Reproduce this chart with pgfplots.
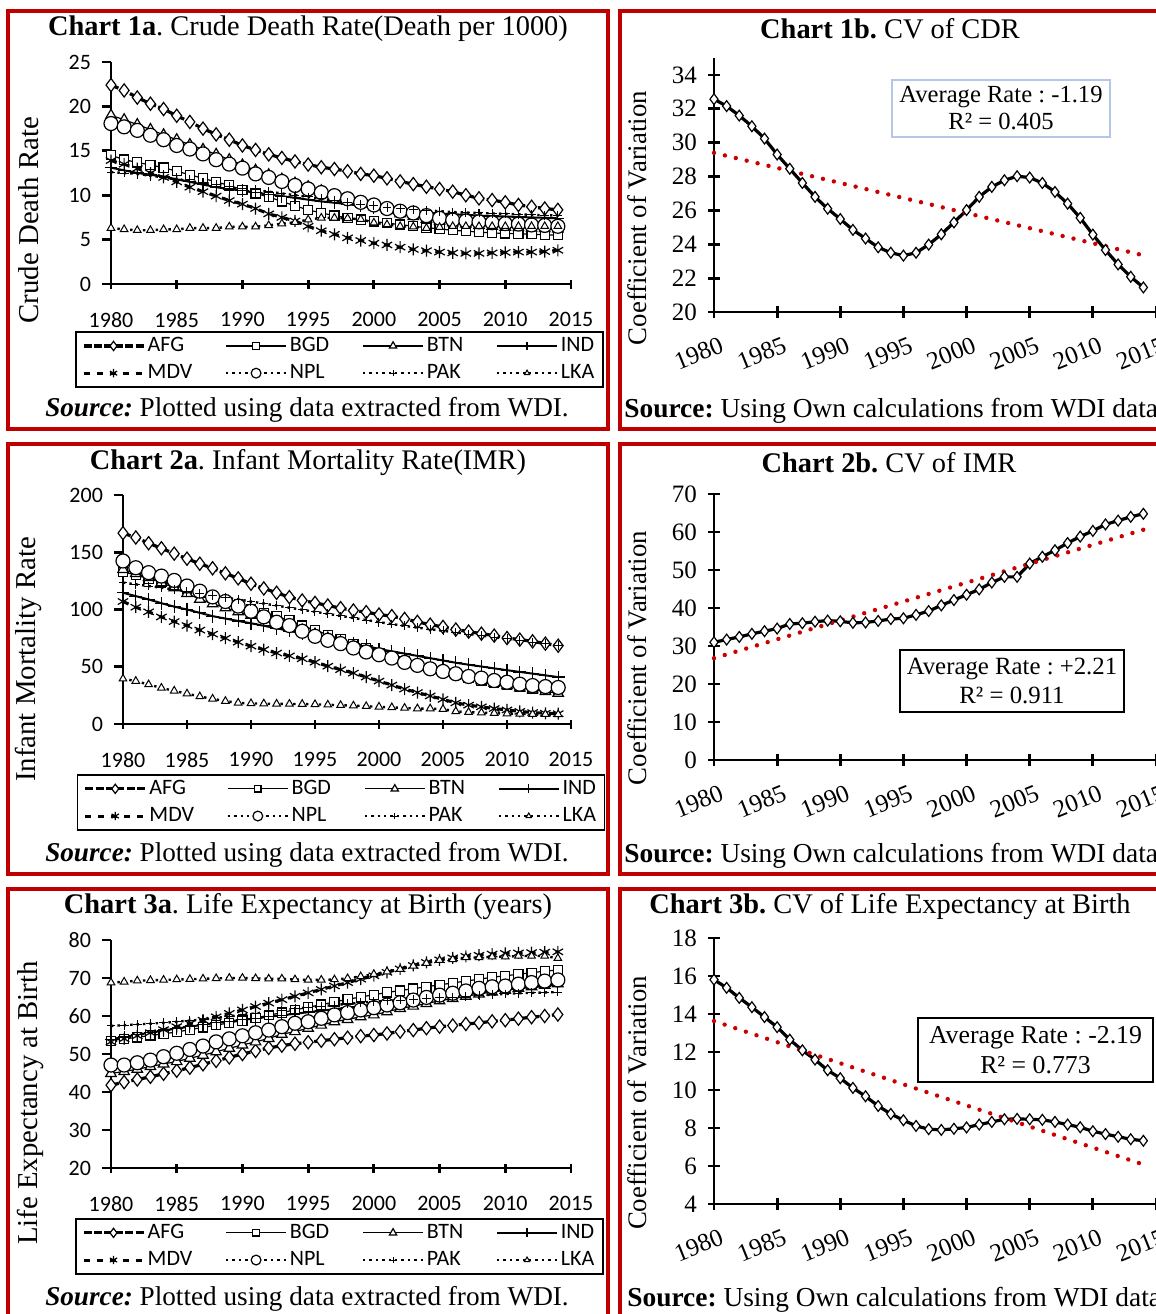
\documentclass[border=0pt]{standalone}
\usepackage{pgfplots}
\pgfplotsset{compat=1.18}
\usepackage{pgfplotstable}
\usepackage{fontspec}
\setmainfont{Liberation Serif}
\newfontfamily\calib{Carlito}
\definecolor{framered}{RGB}{192,0,0}
\definecolor{trendred}{RGB}{204,0,0}
\definecolor{boxblue}{RGB}{180,199,231}
\frenchspacing

\pgfplotstableread{
year AFG BGD BTN IND MDV NPL PAK LKA
1980 22.4 14.5 19.0 13.1 13.9 18.07 12.6 6.3
1981 21.8 14.0 18.5 12.8 13.5 17.7 12.5 6.15
1982 21.0 13.7 17.95 12.5 13.0 17.3 12.4 6.05
1983 20.3 13.4 17.4 12.3 12.5 16.75 12.2 6.05
1984 19.7 13.1 16.8 12.1 12.0 16.25 12.0 6.15
1985 18.95 12.7 16.25 11.8 11.5 15.6 11.8 6.15
1986 18.25 12.3 15.7 11.5 10.9 15.2 11.6 6.3
1987 17.5 11.9 15.15 11.2 10.4 14.65 11.4 6.3
1988 16.85 11.5 14.6 10.9 9.9 14.0 11.2 6.3
1989 16.25 11.1 14.0 10.7 9.4 13.5 11.0 6.45
1990 15.6 10.6 13.4 10.5 9.0 13.05 10.8 6.45
1991 15.1 10.2 12.8 10.3 8.5 12.4 10.6 6.45
1992 14.6 9.8 12.3 10.1 7.9 12.0 10.4 6.6
1993 14.2 9.3 11.8 9.9 7.5 11.55 10.2 6.8
1994 13.8 8.8 11.35 9.7 7.1 11.1 10.0 6.95
1995 13.45 8.35 10.95 9.5 6.5 10.7 9.8 7.25
1996 13.15 8.0 10.5 9.3 6.0 10.3 9.6 7.45
1997 12.95 7.7 10.0 9.15 5.6 9.95 9.4 7.45
1998 12.7 7.45 9.55 9.0 5.2 9.6 9.2 7.4
1999 12.4 7.25 9.1 8.8 4.9 9.2 9.0 7.3
2000 12.2 7.05 8.7 8.6 4.6 8.9 8.8 6.9
2001 11.9 6.85 8.3 8.45 4.4 8.5 8.6 6.7
2002 11.55 6.7 7.9 8.3 4.15 8.2 8.5 6.5
2003 11.25 6.5 7.6 8.2 3.9 8.0 8.4 6.45
2004 10.95 6.35 7.3 8.05 3.75 7.7 8.3 6.3
2005 10.7 6.2 7.1 7.95 3.6 7.4 8.2 6.4
2006 10.4 6.05 6.9 7.85 3.5 7.2 8.1 6.5
2007 10.0 5.95 6.75 7.8 3.45 7.1 8.05 6.5
2008 9.65 5.85 6.6 7.7 3.45 7.0 8.0 6.5
2009 9.45 5.75 6.5 7.65 3.5 6.9 7.95 6.5
2010 9.2 5.7 6.4 7.6 3.55 6.8 7.9 6.5
2011 8.9 5.65 6.35 7.55 3.6 6.75 7.85 6.5
2012 8.7 5.6 6.3 7.5 3.6 6.65 7.8 6.5
2013 8.5 5.55 6.25 7.45 3.65 6.6 7.75 6.5
2014 8.35 5.5 6.2 7.4 3.8 6.5 7.7 6.5
}\cdrtab

\pgfplotstableread{
year AFG BGD BTN IND MDV NPL PAK LKA
1980 166.7 133 135 114.6 107 142.4 123.5 39.5
1981 162.9 130 131.5 111.7 102 136.5 122 37.5
1982 157.9 127 128 108.8 98 132.2 120.5 34.5
1983 153.5 124 123.5 105.5 93.5 129.2 119 31.5
1984 148.8 121 119 102.5 89.5 125.4 117.5 29
1985 144.4 118 114 100 86 120.5 115.8 26.5
1986 140 114.5 109 97.1 82 116 114 24
1987 136 111 105 94.2 78.5 111 112.2 22
1988 131.6 107 101.5 92.1 75 107 110.5 20
1989 127.2 103.5 98 90 71.5 103 108.8 18.5
1990 122.5 100 95 88 68 98.5 107 18
1991 118.4 97 92 85.8 65 93.6 105.2 17.8
1992 114.6 94 89 83.6 62 88.9 103.4 17.6
1993 110.8 90.5 85.5 81.3 59.5 86 101.6 17.5
1994 107.9 86 82 79 57 81 99.8 17.4
1995 105.8 82 78.5 76.8 54 76.6 98 17.2
1996 103.5 78 75 74.6 50.5 73.1 96.2 16.8
1997 101.2 74 71.5 72.5 47.5 70.2 94.4 16.4
1998 99.1 70 68 70.4 44.5 66.4 92.6 16
1999 97.7 66 64.5 68.3 41 62.9 90.8 15.5
2000 95.6 62 61 65.5 37.5 60.5 89 15
2001 94.2 58.5 57.5 63.5 34 57.6 87.3 14.5
2002 91.8 55 54 61.5 30.5 53.8 85.7 14
2003 89.2 51.5 51 59.5 27.5 51.2 84.2 13.5
2004 86.8 48.5 48 57.5 24.5 48.2 82.8 13.5
2005 84.8 45.5 45.5 55.5 21.5 45.9 81.4 13
2006 82.5 43 43 53.5 18.5 43.9 80 11
2007 80.7 40.5 40.5 51.8 16.5 41.5 78.6 10.3
2008 78.9 38 38 50.2 15 40.1 77.2 9.9
2009 77.2 36 35.5 48.6 13.5 38 75.8 9.5
2010 75.1 34 33.5 47 12.3 36.5 74.4 9.1
2011 73.7 32.5 31.5 45.5 11 34.8 73 8.8
2012 72.2 31 29.8 44 10 33.6 71.6 8.6
2013 70.2 29.8 28.3 42.5 9.4 32.7 70.2 8.5
2014 68.4 28.6 26.9 41 9 31.9 68.8 8.4
}\imrtab

\pgfplotstableread{
year AFG BGD BTN IND MDV NPL PAK LKA
1980 41.8 53.5 44.9 53.9 53.2 47.1 57.4 68.8
1981 42.6 54.0 45.4 54.5 54.0 47.1 57.6 69.0
1982 43.3 54.4 46.0 55.1 54.8 47.7 57.8 69.3
1983 44.0 54.9 46.7 55.6 55.6 48.4 58.0 69.4
1984 44.8 55.3 47.4 56.2 56.4 49.3 58.2 69.5
1985 45.6 55.8 48.0 56.7 57.2 50.2 58.5 69.6
1986 46.4 56.4 48.9 57.2 58.0 51.2 58.8 69.7
1987 47.3 57.0 49.7 57.7 58.9 52.1 59.1 69.8
1988 48.2 57.6 50.6 58.2 59.8 53.2 59.5 69.9
1989 49.1 58.2 51.5 58.6 60.7 54.0 59.9 70.0
1990 50.0 58.8 52.4 59.0 61.6 54.8 60.3 70.0
1991 50.8 59.5 53.2 59.4 62.5 55.6 60.7 69.9
1992 51.6 60.2 54.1 59.8 63.4 56.3 61.1 69.8
1993 52.2 60.9 55.2 60.2 64.3 57.2 61.5 69.8
1994 52.7 61.6 55.9 60.6 65.2 58.1 61.9 69.6
1995 53.1 62.3 56.8 61.0 66.1 58.5 62.3 69.5
1996 53.5 63.0 57.6 61.4 67.0 59.4 62.6 69.5
1997 53.9 63.7 58.5 61.8 67.9 60.3 62.9 69.6
1998 54.3 64.4 59.1 62.2 68.8 60.9 63.2 69.9
1999 54.7 65.0 59.8 62.6 69.7 61.6 63.5 70.4
2000 55.0 65.6 60.3 63.0 70.6 62.2 63.8 71.0
2001 55.4 66.2 61.1 63.4 71.5 62.9 64.0 71.7
2002 55.9 66.7 62.0 63.8 72.4 63.5 64.2 72.3
2003 56.3 67.2 62.6 64.2 73.3 64.2 64.4 73.2
2004 56.8 67.7 63.3 64.6 74.1 64.9 64.6 73.9
2005 57.2 68.2 64.0 65.0 74.8 65.5 64.8 74.7
2006 57.5 68.7 64.6 65.4 75.3 66.0 65.0 74.9
2007 57.9 69.2 65.2 65.8 75.7 66.6 65.2 75.4
2008 58.2 69.7 65.8 66.2 76.0 67.3 65.4 75.4
2009 58.6 70.2 66.3 66.6 76.3 67.7 65.6 75.6
2010 58.9 70.6 66.8 67.0 76.5 67.9 65.8 75.6
2011 59.3 71.0 67.3 67.3 76.6 68.4 66.0 75.8
2012 59.7 71.4 67.7 67.6 76.7 68.8 66.1 75.8
2013 60.0 71.8 68.1 67.9 76.8 69.2 66.2 75.8
2014 60.4 72.1 68.5 68.2 76.9 69.5 66.3 75.2
}\letab

\pgfplotstableread{
year cdr imr le
1980 32.57 30.98 15.81
1981 32.16 31.7 15.38
1982 31.6 32.4 14.85
1983 30.97 33.2 14.36
1984 30.24 33.9 13.84
1985 29.3 34.6 13.31
1986 28.46 35.8 12.65
1987 27.62 36.0 12.09
1988 26.8 36.4 11.6
1989 26.1 36.7 11.04
1990 25.49 36.5 10.62
1991 24.85 36.1 10.11
1992 24.34 36.2 9.67
1993 23.82 36.6 9.16
1994 23.5 37.1 8.74
1995 23.33 37.3 8.41
1996 23.5 38.2 8.11
1997 23.98 39.2 7.94
1998 24.59 40.7 7.9
1999 25.29 42.1 7.96
2000 26.02 43.5 8.03
2001 26.8 44.9 8.18
2002 27.39 46.7 8.32
2003 27.78 48.2 8.46
2004 28.02 48.2 8.48
2005 27.94 51.7 8.46
2006 27.62 53.5 8.43
2007 27.09 55.2 8.32
2008 26.4 57.1 8.18
2009 25.56 58.8 8.04
2010 24.57 60.3 7.83
2011 23.66 62.0 7.68
2012 22.81 63.0 7.54
2013 22.08 64.0 7.41
2014 21.45 64.8 7.33
}\cvtab

\pgfplotsset{
  common/.style={
    scale only axis, clip=false, anchor=south west,
    axis x line*=bottom, axis y line*=left,
    axis line style={line width=1.4pt, black, -},
    every tick/.style={line width=1.4pt, black},
    xmin=1980, xmax=2015, xtick={1980,1985,...,2015},
    minor tick num=0,
    /pgf/number format/assume math mode=true,
    /pgf/number format/1000 sep={},
  },
  leftax/.style={common,
    xtick align=center, ytick align=outside,
    major tick length=4.5pt,
    tick label style={font=\calib\fontsize{11}{13}\selectfont},
    xticklabel style={yshift=-8.5pt},
    yticklabel style={xshift=-2pt},
    legend columns=4, legend cell align=left,
    legend image code/.code={\draw[##1, every mark/.append style={scale=0.7}, mark repeat=2, mark phase=2] plot coordinates {(0pt,0pt) (15pt,0pt) (30pt,0pt)};},
    legend style={draw=black, line width=0.8pt, anchor=north west,
      font=\calib\fontsize{11}{13}\selectfont, inner xsep=3pt, inner ysep=1pt,
      nodes={inner sep=1.3pt, text height=7.5pt, text depth=2pt},
      row sep=1.5pt,
      /tikz/every even column/.append style={column sep=15pt}},
  },
  rightax/.style={common,
    tick align=center, major tick length=6pt,
    tick label style={font=\fontsize{12.5}{14}\selectfont},
    xticklabel style={rotate=22, anchor=north east, inner sep=1pt, yshift=-8pt},
    yticklabel style={xshift=-2pt},
    width=221pt,
  },
  sAFG/.style={black, line width=1.6pt, dash pattern=on 4pt off 1.2pt, mark=diamond*, mark size=3.3pt, mark options={solid, fill=white, draw=black, line width=0.6pt}},
  sBGD/.style={black, line width=0.6pt, mark=square*, mark size=2.3pt, mark options={solid, fill=white, draw=black, line width=0.6pt}},
  sBTN/.style={black, line width=0.6pt, mark=triangle*, mark size=3pt, mark options={solid, fill=white, draw=black, line width=0.6pt}},
  sIND/.style={black, line width=1pt, mark=+, mark size=3.2pt, mark options={solid, line width=0.6pt}},
  sMDV/.style={black, line width=1.5pt, dash pattern=on 3pt off 3.5pt, mark=asterisk, mark size=3pt, mark options={solid, line width=0.6pt}},
  sNPL/.style={black, line width=1.2pt, dash pattern=on 1.2pt off 2pt, mark=*, mark size=3.5pt, mark options={solid, fill=white, draw=black, line width=0.6pt}},
  sPAK/.style={black, line width=1.2pt, dash pattern=on 1.2pt off 2pt, mark=+, mark size=2.2pt, mark options={solid, line width=0.5pt}},
  sLKA/.style={black, line width=1.2pt, dash pattern=on 1.2pt off 2pt, mark=triangle*, mark size=2.2pt, mark options={solid, fill=white, draw=black, line width=0.5pt}},
  sMain/.style={black, line width=1.6pt, mark=diamond*, mark size=2.7pt, mark options={fill=white, draw=black, line width=0.6pt}},
  sTrend/.style={trendred, line width=2.2pt, dash pattern=on 0pt off 5.6pt, line cap=round},
}

\newcommand{\leftplots}[1]{%
  \addplot[sAFG] table[x=year,y=AFG]{#1}; \addlegendentry{AFG}
  \addplot[sBGD] table[x=year,y=BGD]{#1}; \addlegendentry{BGD}
  \addplot[sBTN] table[x=year,y=BTN]{#1}; \addlegendentry{BTN}
  \addplot[sIND] table[x=year,y=IND]{#1}; \addlegendentry{IND}
  \addplot[sMDV] table[x=year,y=MDV]{#1}; \addlegendentry{MDV}
  \addplot[sNPL] table[x=year,y=NPL]{#1}; \addlegendentry{NPL}
  \addplot[sPAK] table[x=year,y=PAK]{#1}; \addlegendentry{PAK}
  \addplot[sLKA] table[x=year,y=LKA]{#1}; \addlegendentry{LKA}
}

\begin{document}
\begin{tikzpicture}
\useasboundingbox (0,0) rectangle (578pt,-657pt);
\fill[white] (0,0) rectangle (578pt,-657pt);
\clip (0,0) rectangle (578pt,-657pt);

% ---------- Chart 1a ----------
\begin{axis}[leftax, at={(55.5pt,-142pt)}, width=230pt, height=111pt,
  ymin=0, ymax=25, ytick={0,5,...,25},
  every axis y label/.style={at={(axis description cs:-0.180,0.288)}, rotate=90, anchor=center, font=\fontsize{14.4}{17}\selectfont},
  ylabel={Crude Death Rate},
  legend style={at={(-0.078,-0.212)}},
]
\leftplots{\cdrtab}
\end{axis}

% ---------- Chart 2a ----------
\begin{axis}[leftax, at={(61.5pt,-362pt)}, width=224pt, height=114.5pt,
  ymin=0, ymax=200, ytick={0,50,...,200},
  every axis y label/.style={at={(axis description cs:-0.212,0.282)}, rotate=90, anchor=center, font=\fontsize{14.4}{17}\selectfont},
  ylabel={Infant Mortality Rate},
  legend style={at={(-0.103,-0.218)}},
]
\leftplots{\imrtab}
\end{axis}

% ---------- Chart 3a ----------
\begin{axis}[leftax, at={(55.5pt,-584pt)}, width=230pt, height=114pt,
  ymin=20, ymax=80, ytick={20,30,...,80},
  every axis y label/.style={at={(axis description cs:-0.176,0.285)}, rotate=90, anchor=center, font=\fontsize{14.4}{17}\selectfont},
  ylabel={Life Expectancy at Birth},
  legend style={at={(-0.078,-0.219)}},
]
\leftplots{\letab}
\end{axis}

% ---------- Chart 1b ----------
\begin{axis}[rightax, at={(357pt,-156pt)}, height=127pt,
  ymin=20, ymax=35, ytick={20,22,...,34},
  every axis y label/.style={at={(axis description cs:-0.174,0.370)}, rotate=90, anchor=center, font=\fontsize{13.4}{16}\selectfont},
  ylabel={Coefficient of Variation},
]
\addplot[sMain] table[x=year,y=cdr]{\cvtab};
\addplot[sTrend] coordinates {(1980,29.4) (2014,23.35)};
\end{axis}

% ---------- Chart 2b ----------
\begin{axis}[rightax, at={(357pt,-380pt)}, height=133pt,
  ymin=0, ymax=70, ytick={0,10,...,70},
  every axis y label/.style={at={(axis description cs:-0.174,0.383)}, rotate=90, anchor=center, font=\fontsize{13.4}{16}\selectfont},
  ylabel={Coefficient of Variation},
]
\addplot[sMain] table[x=year,y=imr]{\cvtab};
\addplot[sTrend] coordinates {(1980,26.8) (2014,60.6)};
\end{axis}

% ---------- Chart 3b ----------
\begin{axis}[rightax, at={(357pt,-602pt)}, height=133pt,
  ymin=4, ymax=18, ytick={4,6,...,18},
  every axis y label/.style={at={(axis description cs:-0.174,0.380)}, rotate=90, anchor=center, font=\fontsize{13.4}{16}\selectfont},
  ylabel={Coefficient of Variation},
]
\addplot[sMain] table[x=year,y=le]{\cvtab};
\addplot[sTrend] coordinates {(1980,13.63) (2014,6.08)};
\end{axis}

\begin{scope}[x=0.5pt,y=-0.5pt]
% frames
\draw[framered, line width=2pt] (8,10.5) rectangle (608,429);
\draw[framered, line width=2pt] (619.5,10.5) rectangle (1180,429);
\draw[framered, line width=2pt] (8,444) rectangle (608,874);
\draw[framered, line width=2pt] (619.5,444) rectangle (1180,874);
\draw[framered, line width=2pt] (8,889) rectangle (608,1330);
\draw[framered, line width=2pt] (619.5,889) rectangle (1180,1330);
% titles
\node[font=\fontsize{14.2}{17}\selectfont] at (308,29) {\textbf{Chart 1a}. Crude Death Rate(Death per 1000)};
\node[font=\fontsize{14.2}{17}\selectfont] at (890,29) {\textbf{Chart 1b.} CV of CDR};
\node[font=\fontsize{14.2}{17}\selectfont] at (308,463) {\textbf{Chart 2a}. Infant Mortality Rate(IMR)};
\node[font=\fontsize{14.2}{17}\selectfont] at (889,463) {\textbf{Chart 2b.} CV of IMR};
\node[font=\fontsize{14.2}{17}\selectfont] at (308,907) {\textbf{Chart 3a}. Life Expectancy at Birth (years)};
\node[font=\fontsize{14.2}{17}\selectfont] at (890,907) {\textbf{Chart 3b.} CV of Life Expectancy at Birth};
% sources
\node[font=\fontsize{13.6}{16}\selectfont] at (307,410) {\textbf{\textit{Source:}} Plotted using data extracted from WDI.};
\node[font=\fontsize{13.6}{16}\selectfont] at (307,855) {\textbf{\textit{Source:}} Plotted using data extracted from WDI.};
\node[font=\fontsize{13.6}{16}\selectfont] at (307,1299) {\textbf{\textit{Source:}} Plotted using data extracted from WDI.};
\node[font=\fontsize{13.7}{16}\selectfont, anchor=west, inner sep=0pt] at (624,411) {\textbf{Source:} Using Own calculations from WDI data};
\node[font=\fontsize{13.7}{16}\selectfont, anchor=west, inner sep=0pt] at (624,856) {\textbf{Source:} Using Own calculations from WDI data};
\node[font=\fontsize{13.7}{16}\selectfont, anchor=west, inner sep=0pt] at (627,1300) {\textbf{Source:} Using Own calculations from WDI data};
% annotation boxes
\node[draw=boxblue, line width=0.8pt, fill=white, align=center, minimum width=109pt, minimum height=28.5pt, inner sep=1pt, font=\fontsize{12.3}{13.5}\selectfont] at (1001,108.5) {Average Rate : -1.19\\R² = 0.405};
\node[draw=black, line width=0.6pt, fill=white, align=center, minimum width=112pt, minimum height=31pt, inner sep=1pt, font=\fontsize{12.4}{14.5}\selectfont] at (1012,681) {Average Rate : +2.21\\R² = 0.911};
\node[draw=black, line width=0.6pt, fill=white, align=center, minimum width=117.5pt, minimum height=32pt, inner sep=1pt, font=\fontsize{12.9}{15}\selectfont] at (1035.5,1050) {Average Rate : -2.19\\R² = 0.773};
\end{scope}
\end{tikzpicture}
\end{document}
